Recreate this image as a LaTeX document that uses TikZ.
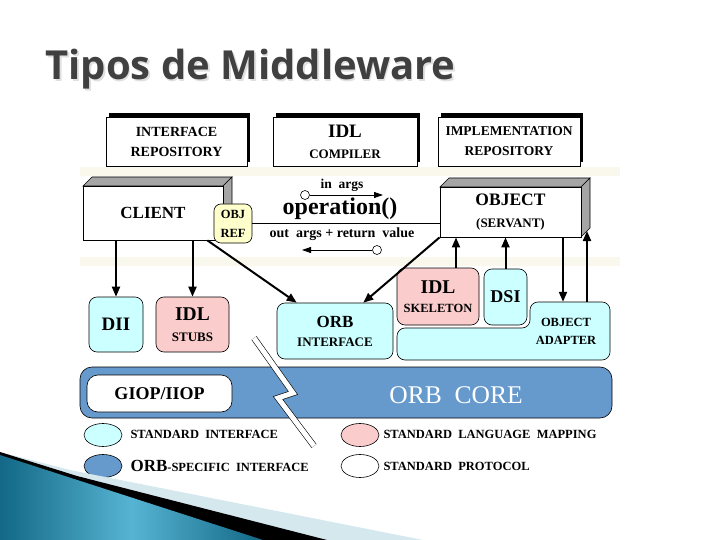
\documentclass[tikz,border=0pt]{standalone}
\usepackage{fontspec}
\setmainfont{Liberation Serif}
\newfontfamily\titlefont{Open Sans}
\usetikzlibrary{arrows.meta,shapes.geometric,shadows}
\definecolor{stdcyan}{RGB}{204,255,255}
\definecolor{stdpink}{RGB}{250,204,204}
\definecolor{objyellow}{RGB}{255,255,204}
\definecolor{orbblue}{RGB}{102,153,204}
\definecolor{titlegray}{RGB}{64,64,64}
\definecolor{facegray}{RGB}{165,165,165}
\definecolor{bandcream}{RGB}{250,247,236}
\definecolor{swpale}{RGB}{213,232,238}
\definecolor{swdark}{RGB}{18,104,134}
\definecolor{swlight}{RGB}{86,180,210}
\newcommand\fsz[2]{\fontsize{#1}{#2}\selectfont}

\begin{document}
\begin{tikzpicture}[x=1pt,y=-1pt,
  topbox/.style={draw,fill=white,line width=0.8pt,align=center,minimum height=49pt,
    general shadow={fill=black,shadow xshift=3pt,shadow yshift=4pt}},
  face/.style={draw,fill=facegray,line width=0.6pt},
  frontbox/.style={draw,fill=white,line width=0.8pt,align=center,font=\bfseries},
  rbox/.style={draw,rounded corners=8pt,line width=0.6pt,align=center,font=\bfseries},
  arr/.style={line width=2pt,-{Triangle[length=10pt,width=8pt]}},
  thinarr/.style={line width=0.8pt,-{Triangle[length=9pt,width=6pt]}},
  port/.style={circle,draw,fill=white,inner sep=0pt,minimum size=9pt,line width=0.6pt},
  legend/.style={ellipse,draw,line width=0.6pt,minimum width=38pt,minimum height=23pt,inner sep=0pt},
  legtext/.style={anchor=west,font=\bfseries\fsz{12.5}{12.5}}]
\useasboundingbox (0,0) rectangle (720,540);

\fill[white] (80,105) rectangle (620,478);
\fill[bandcream] (80,167) rectangle (620,176);
\fill[bandcream] (80,257) rectangle (620,266);

\node[anchor=base west,text=black!12,font=\titlefont\bfseries\fsz{40}{40}] (titleshadow) at (43.5,81.5) {Tipos de Middleware};
\node[anchor=base west,text=titlegray,font=\titlefont\bfseries\fsz{40}{40}] (title) at (42,80) {Tipos de Middleware};

\node[topbox,minimum width=141pt,font=\bfseries\fsz{14}{20}] (irep) at (176.5,141.5) {INTERFACE\\REPOSITORY};
\node[topbox,minimum width=144pt,font=\bfseries\fsz{13}{21}] (idlc) at (345,141.5) {{\fsz{19}{21}IDL}\\COMPILER};
\node[topbox,minimum width=142pt,font=\bfseries\fsz{13.5}{20}] (implrep) at (509,141.5) {IMPLEMENTATION\\REPOSITORY};

\draw[face] (83,186) -- (92,177) -- (232,177) -- (223,186) -- cycle;
\draw[face] (223,186) -- (232,177) -- (232,231) -- (223,240) -- cycle;
\node[frontbox,minimum width=140pt,minimum height=54pt,font=\bfseries\fsz{17}{17}] (client) at (153,213) {CLIENT};
\node[rbox,fill=objyellow,minimum width=38pt,minimum height=39pt,inner sep=1pt,rounded corners=7pt,font=\bfseries\fsz{12.5}{19}] (objref) at (233,223.5) {OBJ\\REF};

\draw[face] (440,187) -- (449,178) -- (590,178) -- (581,187) -- cycle;
\draw[face] (581,187) -- (590,178) -- (590,228) -- (581,237) -- cycle;
\node[frontbox,minimum width=141pt,minimum height=50pt,font=\bfseries\fsz{13}{22}] (object) at (510.5,212) {{\fsz{17.5}{22}OBJECT}\\(SERVANT)};

\draw[line width=0.8pt] (objref.east) -- (objref.east -| object.west);
\node[font=\bfseries\fsz{24}{24}] (op) at (340,209) {operation()};
\node[font=\bfseries\fsz{13.5}{13.5}] (inargs) at (342,185) {in\enspace args};
\node[font=\bfseries\fsz{14}{14}] (outargs) at (342,234) {out\enspace args + return\enspace value};
\node[port] (inport) at (305,195) {};
\coordinate (inend) at (383,195);
\draw[thinarr] (inport) -- (inend);
\node[port] (outport) at (377,250) {};
\coordinate (outend) at (302,250);
\draw[thinarr] (outport) -- (outend);

\node[rbox,fill=stdcyan,minimum width=54pt,minimum height=55pt,font=\bfseries\fsz{19}{19}] (dii) at (116,324.5) {DII};
\node[rbox,fill=stdpink,minimum width=73pt,minimum height=55pt,font=\bfseries\fsz{13}{21}] (stubs) at (192.5,324.5) {{\fsz{19.5}{21}IDL}\\STUBS};
\node[rbox,fill=stdcyan,minimum width=116pt,minimum height=56pt,font=\bfseries\fsz{13}{19}] (orbif) at (335,331) {{\fsz{17}{19}ORB}\\INTERFACE};
\node[rbox,fill=stdpink,minimum width=82pt,minimum height=57pt,font=\bfseries\fsz{12.5}{19}] (skel) at (438,296.5) {{\fsz{19.5}{19}IDL}\\SKELETON};
\node[rbox,fill=stdcyan,minimum width=43pt,minimum height=56pt,font=\bfseries\fsz{18}{18}] (dsi) at (505.5,297) {DSI};
\draw[fill=stdcyan,line width=0.6pt,rounded corners=8pt] (397,328) -- (530,328) -- (530,302) -- (610,302) -- (610,360) -- (397,360) -- cycle;
\node[minimum width=80pt,minimum height=58pt,align=center,font=\bfseries\fsz{12.5}{18}] (oa) at (566,331) {OBJECT\\ADAPTER};

\draw[arr] (client.south -| dii) -- (dii.north);
\draw[arr] (client.south -| stubs) -- (stubs.north);
\draw[arr] ([xshift=-16pt]client.south east) -- ([xshift=20pt]orbif.north west);
\draw[arr] (object.south west) -- ([xshift=-30pt]orbif.north east);
\draw[arr] ([xshift=18pt]skel.north) -- ([xshift=18pt]skel.north |- object.south);
\draw[arr] (dsi.north) -- (dsi.north |- object.south);
\draw[arr] ([xshift=-3pt]oa.north |- object.south) -- ([xshift=-3pt]oa.north);
\coordinate (rface) at (587,231);
\draw[arr] ([xshift=21pt]oa.north) -- (rface);

\node[draw,fill=orbblue,rounded corners=12pt,minimum width=532pt,minimum height=51pt,line width=0.6pt] (core) at (346,392.5) {};
\node[text=white,font=\fsz{25.5}{25.5}] (coretxt) at (456,395) {ORB\enspace CORE};
\node[rbox,fill=white,minimum width=145pt,minimum height=37pt,rounded corners=11pt,font=\bfseries\fsz{18}{18}] (giop) at (159.5,393.5) {GIOP/IIOP};
\draw[line width=0.6pt,double=white,double distance=5pt] (254,338) -- (293,393) -- (278,398) -- (314,446);

\node[legend,fill=stdcyan] (lgstd) at (103,435) {};
\node[legtext] (lgstdtxt) at (127,434) {STANDARD\enspace INTERFACE};
\node[legend,fill=orbblue] (lgorb) at (103,466) {};
\node[legtext] (lgorbtxt) at (127,466) {{\fsz{17}{17}ORB}-SPECIFIC\enspace INTERFACE};
\node[legend,fill=stdpink] (lgmap) at (360,435) {};
\node[legtext] (lgmaptxt) at (380,434) {STANDARD\enspace LANGUAGE\enspace MAPPING};
\node[legend,fill=white] (lgprot) at (360,466) {};
\node[legtext] (lgprottxt) at (380,466) {STANDARD\enspace PROTOCOL};

\fill[swpale] (0,452) -- (70,470) -- (423,540) -- (0,540) -- cycle;
\fill[black] (0,452) -- (77,476) -- (327,540) -- (0,540) -- cycle;
\shade[left color=swdark,right color=swdark,middle color=swlight] (0,455) -- (263,540) -- (0,540) -- cycle;
\end{tikzpicture}
\end{document}
